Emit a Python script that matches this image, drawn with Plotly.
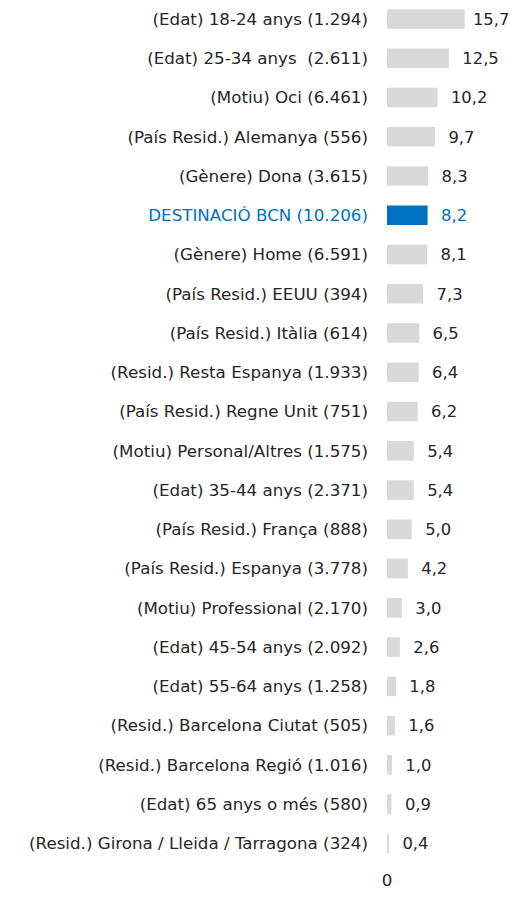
import plotly.graph_objects as go

categories = [
    "(Edat) 18-24 anys (1.294)",
    "(Edat) 25-34 anys\u00a0 (2.611)",
    "(Motiu) Oci (6.461)",
    "(País Resid.) Alemanya (556)",
    "(Gènere) Dona (3.615)",
    "DESTINACIÓ BCN (10.206)",
    "(Gènere) Home (6.591)",
    "(País Resid.) EEUU (394)",
    "(País Resid.) Itàlia (614)",
    "(Resid.) Resta Espanya (1.933)",
    "(País Resid.) Regne Unit (751)",
    "(Motiu) Personal/Altres (1.575)",
    "(Edat) 35-44 anys (2.371)",
    "(País Resid.) França (888)",
    "(País Resid.) Espanya (3.778)",
    "(Motiu) Professional (2.170)",
    "(Edat) 45-54 anys (2.092)",
    "(Edat) 55-64 anys (1.258)",
    "(Resid.) Barcelona Ciutat (505)",
    "(Resid.) Barcelona Regió (1.016)",
    "(Edat) 65 anys o més (580)",
    "(Resid.) Girona / Lleida / Tarragona (324)",
]
values = [15.7, 12.5, 10.2, 9.7, 8.3, 8.2, 8.1, 7.3, 6.5, 6.4, 6.2,
          5.4, 5.4, 5.0, 4.2, 3.0, 2.6, 1.8, 1.6, 1.0, 0.9, 0.4]
highlight = "DESTINACIÓ BCN (10.206)"

GREY = "#D9D9D9"
BLUE = "#0070C0"
TEXT = "#262626"
FONT = "DejaVu Sans, sans-serif"
FSIZE = 16.7

bar_colors = [BLUE if c == highlight else GREY for c in categories]
text_colors = [BLUE if c == highlight else TEXT for c in categories]
ticktext = [f'<span style="color:{BLUE}">{c}</span>' if c == highlight else c
            for c in categories]
vmax = max(values)
label_templates = ["\u00a0%{x:.1f}" if v == vmax else "\u00a0\u00a0%{x:.1f}"
                   for v in values]

fig = go.Figure(go.Bar(
    y=categories, x=values, orientation="h",
    marker=dict(color=bar_colors, line=dict(width=0)),
    texttemplate=label_templates,
    textposition="outside",
    textfont=dict(color=text_colors, size=FSIZE, family=FONT),
    cliponaxis=False,
))

fig.update_layout(
    width=512, height=884,
    margin=dict(l=379, r=34, t=0, b=29, autoexpand=False),
    plot_bgcolor="white", paper_bgcolor="white",
    font=dict(family=FONT, size=FSIZE, color=TEXT),
    separators=",.",
    bargap=0.5,
    showlegend=False,
    xaxis=dict(range=[0, 20], tickvals=[0], ticktext=["0"], showgrid=False,
               zeroline=False, showline=False, ticks="", ticklabelstandoff=5,
               fixedrange=True),
    yaxis=dict(categoryorder="array", categoryarray=categories,
               tickvals=categories, ticktext=ticktext,
               range=[21.5, -0.28], showgrid=False, zeroline=False,
               showline=False, ticks="", ticklabelstandoff=18,
               automargin=False),
)

fig.write_html("out.html")
